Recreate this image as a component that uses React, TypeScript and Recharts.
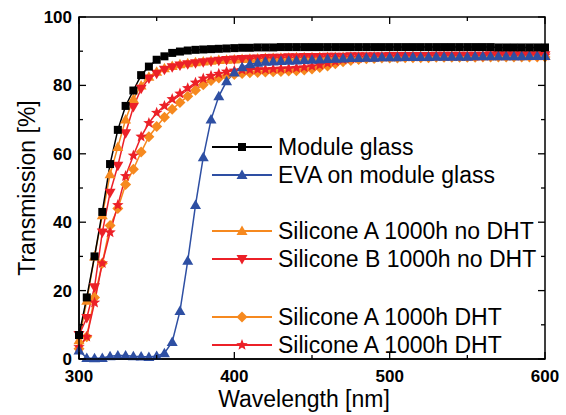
import React from 'react';
import { LineChart, Line, XAxis, YAxis, Legend, Label } from 'recharts';

const wavelengths = [
  300, 305, 310, 315, 320, 325, 330, 335, 340, 345,
  350, 355, 360, 365, 370, 375, 380, 385, 390, 395,
  400, 405, 410, 415, 420, 425, 430, 435, 440, 445,
  450, 455, 460, 465, 470, 475, 480, 485, 490, 495,
  500, 505, 510, 515, 520, 525, 530, 535, 540, 545,
  550, 555, 560, 565, 570, 575, 580, 585, 590, 595, 600,
];

const moduleGlass = [
  7, 18, 30, 43, 57, 67, 74, 78.5, 83, 85.5,
  87.5, 88.5, 89.5, 89.9, 90.2, 90.4, 90.5, 90.6, 90.7, 90.8,
  90.9, 91, 91, 91.1, 91.1, 91.1, 91.2, 91.2, 91.2, 91.2,
  91.2, 91.2, 91.2, 91.2, 91.2, 91.2, 91.2, 91.2, 91.2, 91.2,
  91.2, 91.2, 91.2, 91.2, 91.2, 91.2, 91.2, 91.2, 91.2, 91.2,
  91.2, 91.2, 91.2, 91.2, 91.1, 91.1, 91.1, 91.1, 91.1, 91.1, 91.1,
];

const evaOnGlass = [
  2.5, 0.3, 0.2, 0.3, 0.8, 1, 1, 0.8, 0.7, 0.6,
  0.9, 1.7, 5, 14, 28.7, 45, 59, 70, 76.8, 81.2,
  83.8, 85.3, 86.2, 86.6, 86.9, 87, 87.1, 87.2, 87.3, 87.4,
  87.5, 87.6, 87.7, 87.8, 87.9, 88, 88, 88.1, 88.1, 88.2,
  88.2, 88.2, 88.3, 88.3, 88.3, 88.3, 88.4, 88.4, 88.4, 88.4,
  88.4, 88.5, 88.5, 88.5, 88.5, 88.5, 88.5, 88.5, 88.6, 88.6, 88.6,
];

const siliconeANoDht = [
  5.5, 17, 30, 42, 54, 62, 70, 76, 80, 82.5,
  84, 85, 85.7, 86.2, 86.5, 86.8, 87, 87.2, 87.4, 87.5,
  87.6, 87.7, 87.8, 87.9, 88, 88, 88.1, 88.1, 88.2, 88.2,
  88.2, 88.3, 88.3, 88.3, 88.3, 88.4, 88.4, 88.4, 88.4, 88.4,
  88.5, 88.5, 88.5, 88.5, 88.5, 88.5, 88.6, 88.6, 88.6, 88.6,
  88.6, 88.6, 88.6, 88.7, 88.7, 88.7, 88.7, 88.7, 88.7, 88.7, 88.7,
];

const siliconeBNoDht = [
  7, 12, 21, 37, 48.6, 56.5, 66, 73.7, 79, 82,
  83.4, 84.6, 85.3, 85.8, 86.2, 86.5, 86.8, 87, 87.2, 87.4,
  87.6, 87.7, 87.8, 87.9, 88, 88.1, 88.1, 88.2, 88.2, 88.3,
  88.3, 88.3, 88.4, 88.4, 88.4, 88.5, 88.5, 88.5, 88.5, 88.5,
  88.6, 88.6, 88.6, 88.6, 88.6, 88.6, 88.7, 88.7, 88.7, 88.7,
  88.7, 88.7, 88.7, 88.8, 88.8, 88.8, 88.8, 88.8, 88.8, 88.8, 88.8,
];

const siliconeADht = [
  3, 6.5, 18, 28, 39, 44, 51, 55.5, 60.5, 65,
  68, 70.7, 73, 75, 76.8, 78.6, 80.2, 81.4, 82.2, 82.8,
  83.2, 83.5, 83.7, 83.8, 83.9, 84, 84.1, 84.2, 84.3, 84.5,
  84.8, 85.2, 85.7, 86.3, 86.9, 87.3, 87.6, 87.8, 87.9, 88,
  88, 88, 88.1, 88.1, 88.1, 88.1, 88.2, 88.2, 88.2, 88.2,
  88.2, 88.2, 88.3, 88.3, 88.3, 88.3, 88.3, 88.3, 88.3, 88.3, 88.3,
];

const siliconeADht2 = [
  3.5, 6.5, 16.5, 28, 37, 45, 53.5, 59.5, 65, 69,
  72, 74, 76, 77.6, 79.2, 80.8, 82, 82.8, 83.4, 84,
  84.3, 84.5, 84.6, 84.7, 84.7, 84.8, 84.9, 85, 85.1, 85.3,
  85.6, 86, 86.5, 87, 87.5, 87.8, 88, 88.1, 88.2, 88.3,
  88.3, 88.3, 88.4, 88.4, 88.4, 88.4, 88.5, 88.5, 88.5, 88.5,
  88.5, 88.5, 88.6, 88.6, 88.6, 88.6, 88.6, 88.6, 88.7, 88.7, 88.7,
];

const xTicks = [300, 350, 400, 450, 500, 550, 600];
const yTicks = [0, 10, 20, 30, 40, 50, 60, 70, 80, 90, 100];

const FONT = '"Liberation Sans", Arial, sans-serif';

// plot box, as set by the chart margins and axis sizes below
const PLOT = { left: 79, top: 17, width: 466, height: 342 };

type Shape = 'square' | 'up' | 'down' | 'diamond' | 'star';

const series: { key: string; name: string; color: string; shape: Shape; group: number }[] = [
  { key: 'siliconeADht', name: 'Silicone A 1000h DHT', color: '#f6891f', shape: 'diamond', group: 2 },
  { key: 'siliconeADht2', name: 'Silicone A 1000h DHT', color: '#ec2027', shape: 'star', group: 2 },
  { key: 'siliconeANoDht', name: 'Silicone A 1000h no DHT', color: '#f6891f', shape: 'up', group: 1 },
  { key: 'siliconeBNoDht', name: 'Silicone B 1000h no DHT', color: '#ec2027', shape: 'down', group: 1 },
  { key: 'evaOnGlass', name: 'EVA on module glass', color: '#2e4fa3', shape: 'up', group: 0 },
  { key: 'moduleGlass', name: 'Module glass', color: '#000000', shape: 'square', group: 0 },
];
const legendOrder = ['moduleGlass', 'evaOnGlass', 'siliconeANoDht', 'siliconeBNoDht', 'siliconeADht', 'siliconeADht2'];

const data = wavelengths.map((nm, i) => ({
  nm,
  moduleGlass: moduleGlass[i],
  evaOnGlass: evaOnGlass[i],
  siliconeANoDht: siliconeANoDht[i],
  siliconeBNoDht: siliconeBNoDht[i],
  siliconeADht: siliconeADht[i],
  siliconeADht2: siliconeADht2[i],
}));

const Mark = ({ shape, cx, cy, color }: { shape: Shape; cx: number; cy: number; color: string }) => {
  if (shape === 'square') return <rect x={cx - 4} y={cy - 4} width={8} height={8} fill={color} />;
  if (shape === 'up')
    return <polygon points={`${cx},${cy - 5.5} ${cx + 5.5},${cy + 4} ${cx - 5.5},${cy + 4}`} fill={color} />;
  if (shape === 'down')
    return <polygon points={`${cx},${cy + 5.5} ${cx + 5.5},${cy - 4} ${cx - 5.5},${cy - 4}`} fill={color} />;
  if (shape === 'diamond')
    return <polygon points={`${cx},${cy - 5.5} ${cx + 5.5},${cy} ${cx},${cy + 5.5} ${cx - 5.5},${cy}`} fill={color} />;
  const pts: string[] = [];
  for (let k = 0; k < 10; k++) {
    const r = k % 2 === 0 ? 6 : 2.6;
    const a = -Math.PI / 2 + (k * Math.PI) / 5;
    pts.push(`${cx + r * Math.cos(a)},${cy + r * Math.sin(a)}`);
  }
  return <polygon points={pts.join(' ')} fill={color} />;
};

const BottomTick = (p: any) => {
  const v = p.payload.value;
  if (v % 100 !== 0) return <g />;
  return (
    <text x={p.x} y={p.y + 23} textAnchor="middle" fontFamily={FONT} fontWeight="bold" fontSize={17} fill="#000">
      {v}
    </text>
  );
};

const LeftTick = (p: any) => {
  const v = p.payload.value;
  if (v % 20 !== 0) return <g />;
  return (
    <text x={p.x - 7} y={p.y + 6} textAnchor="end" fontFamily={FONT} fontWeight="bold" fontSize={17} fill="#000">
      {v}
    </text>
  );
};

// box frame with inward ticks on all four sides, laid over the chart
const Frame = () => {
  const { left, top, width, height } = PLOT;
  const sx = (v: number) => left + ((v - 300) / 300) * width;
  const sy = (v: number) => top + height - (v / 100) * height;
  return (
    <svg width={566} height={415} style={{ position: 'absolute', left: 0, top: 0, pointerEvents: 'none' }}>
      <rect x={left} y={top} width={width} height={height} fill="none" stroke="#000" strokeWidth={1.5} />
      {xTicks.map((v) => {
        const len = v % 100 === 0 ? 7 : 4;
        return (
          <g key={`x${v}`} stroke="#000" strokeWidth={1.3}>
            <line x1={sx(v)} x2={sx(v)} y1={top + height} y2={top + height - len} />
            <line x1={sx(v)} x2={sx(v)} y1={top} y2={top + len} />
          </g>
        );
      })}
      {yTicks.map((v) => {
        const len = v % 20 === 0 ? 7 : 4;
        return (
          <g key={`y${v}`} stroke="#000" strokeWidth={1.3}>
            <line x1={left} x2={left + len} y1={sy(v)} y2={sy(v)} />
            <line x1={left + width} x2={left + width - len} y1={sy(v)} y2={sy(v)} />
          </g>
        );
      })}
    </svg>
  );
};

const LegendBox = () => {
  const rows = legendOrder.map((k) => series.find((s) => s.key === k)!);
  return (
    <div style={{ fontFamily: FONT, fontSize: 23, color: '#000' }}>
      {[0, 1, 2].map((g) => (
        <div key={g} style={{ marginTop: g === 0 ? 0 : g === 1 ? 28 : 30 }}>
          {rows
            .filter((r) => r.group === g)
            .map((r) => (
              <div key={r.key} style={{ height: 28, display: 'flex', alignItems: 'center', whiteSpace: 'nowrap' }}>
                <svg width={64} height={28} style={{ flex: 'none' }}>
                  <line x1={2} x2={62} y1={14} y2={14} stroke={r.color} strokeWidth={1.8} />
                  <Mark shape={r.shape} cx={32} cy={14} color={r.color} />
                </svg>
                <span style={{ marginLeft: 4, lineHeight: '28px' }}>{r.name}</span>
              </div>
            ))}
        </div>
      ))}
    </div>
  );
};

export default function App() {
  return (
    <div style={{ position: 'absolute', left: 0, top: 0, width: 566, height: 415, background: '#fff' }}>
      <LineChart width={566} height={415} data={data} margin={{ top: 17, right: 21, bottom: 0, left: 0 }}>
        <XAxis
          xAxisId="b"
          dataKey="nm"
          type="number"
          domain={[300, 600]}
          ticks={xTicks}
          interval={0}
          height={56}
          tickSize={0}
          tickMargin={0}
          tick={<BottomTick />}
          axisLine={{ stroke: '#000', strokeWidth: 1.5 }}
          tickLine={false}
        >
          <Label
            content={() => (
              <text x={304} y={407} textAnchor="middle" fontFamily={FONT} fontSize={23} fill="#000">
                Wavelength [nm]
              </text>
            )}
          />
        </XAxis>
        <YAxis
          yAxisId="l"
          type="number"
          domain={[0, 100]}
          ticks={yTicks}
          interval={0}
          width={79}
          tickSize={0}
          tickMargin={0}
          tick={<LeftTick />}
          axisLine={{ stroke: '#000', strokeWidth: 1.5 }}
          tickLine={false}
        >
          <Label
            content={() => (
              <text
                x={27}
                y={188}
                transform="rotate(-90 27 188)"
                textAnchor="middle"
                dominantBaseline="central"
                fontFamily={FONT}
                fontSize={23}
                fill="#000"
              >
                Transmission [%]
              </text>
            )}
          />
        </YAxis>
        <Legend
          layout="horizontal"
          verticalAlign="middle"
          align="center"
          content={<LegendBox />}
          wrapperStyle={{ left: 210, top: 133, width: 350, position: 'absolute' }}
        />
        {series.map((s) => (
          <Line
            key={s.key}
            xAxisId="b"
            yAxisId="l"
            dataKey={s.key}
            name={s.name}
            stroke={s.color}
            strokeWidth={1.5}
            isAnimationActive={false}
            dot={(p: any) => <Mark key={`${s.key}-${p.index}`} shape={s.shape} cx={p.cx} cy={p.cy} color={s.color} />}
            activeDot={false}
          />
        ))}
      </LineChart>
      <Frame />
    </div>
  );
}
